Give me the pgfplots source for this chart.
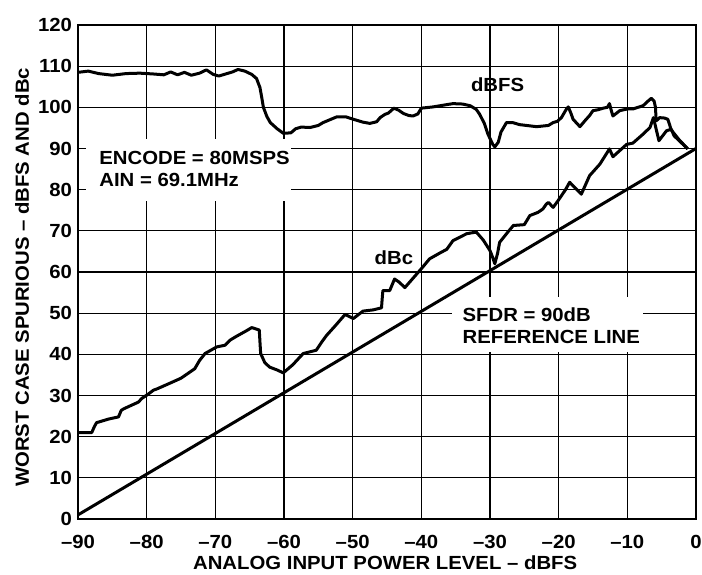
\documentclass[border=0pt]{standalone}
\usepackage{fontspec}
\setmainfont{Liberation Sans}[FakeStretch=1.07]
\usepackage{pgfplots}
\pgfplotsset{compat=1.18}
\newcommand\ff{\fontsize{19}{21.5}\selectfont\bfseries}

\pgfplotstableread{
x y
-90 108.5
-88.5 108.8
-87 108.2
-85 107.8
-83 108.2
-81 108.3
-79 108.1
-77.5 107.9
-76.5 108.6
-75.5 107.9
-74.5 108.5
-73.5 107.8
-72.3 108.3
-71.3 109.1
-70.3 108.0
-69.5 107.6
-68.5 108.1
-67.5 108.6
-66.7 109.2
-65.7 108.8
-64.7 108.0
-64 107
-63.5 104.8
-63.2 102
-63 100
-62.5 97.8
-62 96.3
-61 94.8
-60.1 93.7
-59 93.8
-58.3 94.8
-57.5 95.2
-56.2 95.1
-55 95.6
-54.3 96.3
-53.3 97.0
-52.3 97.7
-51 97.7
-49.9 97.1
-48.5 96.4
-47.5 96.1
-46.5 96.5
-46 97.5
-45.3 98.3
-44.8 98.6
-44 99.8
-43.3 99.3
-42.6 98.5
-41.8 98.0
-41.2 97.9
-40.5 98.4
-40 99.8
-38.3 100.1
-36.5 100.6
-35.4 100.9
-34 100.8
-32.9 100.4
-32 99.5
-31.5 98.3
-30.8 96.0
-30.3 93.5
-29.6 91
-29.3 90.4
-28.8 91.5
-28.4 94
-27.6 96.3
-26.7 96.3
-25.7 95.8
-23.2 95.3
-21.5 95.6
-20.8 96.3
-20.2 96.6
-19.6 97.5
-18.9 99.5
-18.6 100.1
-18.2 98.5
-17.9 97.1
-16.9 95.3
-16.2 96.7
-15.5 98
-15 99.2
-14.3 99.4
-13.5 99.8
-12.9 100
-12.6 100.9
-12.3 99
-12.1 97.9
-11.1 99.2
-10 99.6
-9.2 99.6
-7.7 100.4
-7 101.5
-6.5 102.2
-6.1 101.5
-5.9 100
-5.8 96.7
-5.3 97.5
-4.6 97.4
-4.1 97.1
-3.6 94.5
-2.5 92.2
-1.2 89.9
}\dbfs

\pgfplotstableread{
x y
-90 21
-88 21
-87.6 22.5
-87.3 23.4
-85.5 24.3
-84.1 24.8
-83.7 26.4
-83.3 26.8
-81.2 28.4
-80.7 29.3
-79.8 30.3
-79 31.3
-78.5 31.6
-76.6 33
-75 34.2
-73 36.5
-72.3 38.5
-71.5 40.2
-69.8 41.8
-68.6 42.2
-67.8 43.5
-66.9 44.4
-65.5 45.7
-64.7 46.5
-63.6 45.9
-63.5 43
-63.4 40.2
-62.8 38
-62.1 36.9
-61 36.2
-60.1 35.5
-58.7 37.5
-57.2 40.2
-56 40.7
-55.3 41
-54.5 43
-53.8 44.6
-52.5 47
-51.1 49.7
-49.9 48.7
-48.5 50.5
-47 50.8
-45.8 51.3
-45.7 53.5
-45.6 55.5
-44.6 55.5
-43.9 58.3
-43.2 57.5
-42.4 56.2
-41.2 58.5
-40 60.8
-38.8 63.2
-37.1 64.8
-36.3 65.5
-35.4 67.6
-33.4 69.3
-32 69.7
-31 67.8
-30 65.2
-29.6 63.5
-29.3 62
-28.9 64.5
-28.6 67.2
-27.5 69.5
-26.6 71.3
-25 71.5
-24.2 73.7
-23 74.5
-22.3 75.3
-21.8 76.5
-21.5 76.9
-20.8 75.7
-20.1 77.3
-19 80
-18.4 81.8
-16.7 78.9
-15.5 83.4
-14 86.2
-12.6 89.9
-12.1 88
-10.1 91
-9.2 91.3
-7.7 93.5
-6.7 95.1
-6.2 97.5
-5.4 91.9
-4.3 94.3
-3.6 94.7
-3.2 93.1
-1.2 89.9
}\dbc

\begin{document}
\begin{tikzpicture}
% page size as in the reference (axis box 618 x 494 at the origin)
\useasboundingbox (-78pt,-55pt) rectangle (624pt,519pt);
\begin{axis}[
  at={(0,0)}, anchor=south west,
  scale only axis,
  width=618pt, height=494pt,
  xmin=-90, xmax=0, ymin=0, ymax=120,
  xtick={-90,-80,...,0},
  xticklabels={–90,–80,–70,–60,–50,–40,–30,–20,–10,0},
  ytick={0,10,...,120},
  /pgf/number format/assume math mode=true,
  grid=major,
  major grid style={black, line width=1.3pt},
  axis line style={line width=2.4pt},
  tick align=inside, major tick length=8pt,
  tick style={black, line width=1.3pt},
  tick label style={font=\ff},
  xticklabel style={yshift=-13pt},
  yticklabel style={xshift=-2.5pt},
  label style={font=\ff},
  xlabel={ANALOG INPUT POWER LEVEL – dBFS},
  ylabel={WORST CASE SPURIOUS – dBFS AND dBc},
  xlabel style={at={(axis description cs:0.497,-0.088)}, anchor=center},
  ylabel style={at={(axis description cs:-0.0906,0.489)}, anchor=center},
]
% white boxes behind the annotations
\fill[white] (axis cs:-88.8,77.3) rectangle (axis cs:-59,92.4);
\fill[white] (axis cs:-35.6,40.5) rectangle (axis cs:-7.7,53.9);

\addplot[black, line width=3pt, line join=round] coordinates {(-90,1) (0,90)};
\addplot[black, line width=3pt, line join=round] table {\dbfs};
\addplot[black, line width=3pt, line join=round] table {\dbc};

\node[font=\ff, align=left, anchor=west] at (axis cs:-87.4,85) {ENCODE = 80MSPS\\AIN = 69.1MHz};
\node[font=\ff, align=left, anchor=west] at (axis cs:-34.5,46.9) {SFDR = 90dB\\REFERENCE LINE};
\node[font=\ff] at (axis cs:-28.9,105.5) {dBFS};
\node[font=\ff] at (axis cs:-44,63.5) {dBc};
\end{axis}
\end{tikzpicture}
\end{document}
